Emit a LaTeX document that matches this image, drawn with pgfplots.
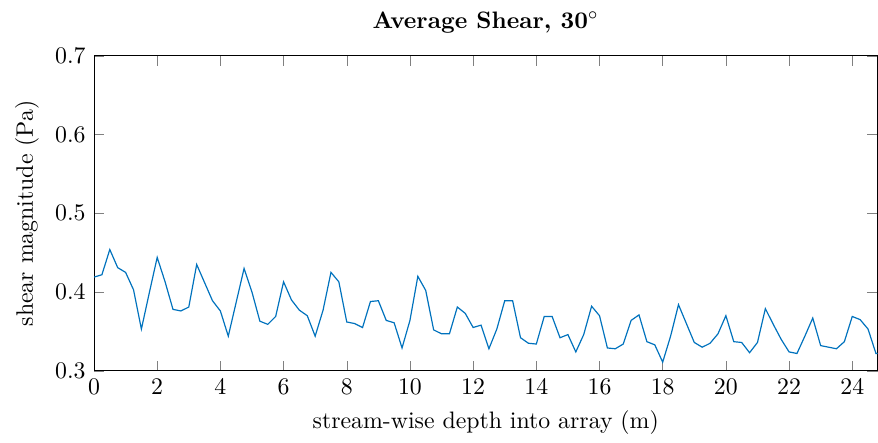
\documentclass[border=0pt]{standalone}
\usepackage{pgfplots}
\pgfplotsset{compat=1.18}
\definecolor{mblue}{rgb}{0,0.447,0.741}
\pgfplotstableread{
x y
0.00 0.419
0.25 0.422
0.50 0.454
0.75 0.431
1.00 0.425
1.25 0.403
1.50 0.353
1.75 0.399
2.00 0.444
2.25 0.413
2.50 0.378
2.75 0.376
3.00 0.381
3.25 0.435
3.50 0.412
3.75 0.389
4.00 0.376
4.25 0.344
4.50 0.387
4.75 0.430
5.00 0.400
5.25 0.363
5.50 0.359
5.75 0.369
6.00 0.413
6.25 0.390
6.50 0.377
6.75 0.370
7.00 0.344
7.25 0.377
7.50 0.425
7.75 0.413
8.00 0.362
8.25 0.360
8.50 0.355
8.75 0.388
9.00 0.389
9.25 0.364
9.50 0.361
9.75 0.329
10.00 0.364
10.25 0.420
10.50 0.402
10.75 0.352
11.00 0.347
11.25 0.347
11.50 0.381
11.75 0.373
12.00 0.355
12.25 0.358
12.50 0.328
12.75 0.353
13.00 0.389
13.25 0.389
13.50 0.342
13.75 0.335
14.00 0.334
14.25 0.369
14.50 0.369
14.75 0.342
15.00 0.346
15.25 0.324
15.50 0.346
15.75 0.382
16.00 0.370
16.25 0.329
16.50 0.328
16.75 0.334
17.00 0.364
17.25 0.371
17.50 0.337
17.75 0.333
18.00 0.311
18.25 0.344
18.50 0.384
18.75 0.360
19.00 0.336
19.25 0.330
19.50 0.335
19.75 0.347
20.00 0.370
20.25 0.337
20.50 0.336
20.75 0.323
21.00 0.336
21.25 0.379
21.50 0.359
21.75 0.340
22.00 0.324
22.25 0.322
22.50 0.344
22.75 0.367
23.00 0.332
23.25 0.330
23.50 0.328
23.75 0.337
24.00 0.369
24.25 0.365
24.50 0.353
24.75 0.322
25.00 0.322
}\datatable
\begin{document}
\begin{tikzpicture}
\begin{axis}[
  scale only axis,
  width=329.3pt, height=132.4pt,
  xmin=0, xmax=24.8,
  ymin=0.3, ymax=0.7,
  xtick={0,2,...,24},
  ytick={0.3,0.4,0.5,0.6,0.7},
  yticklabel style={/pgf/number format/fixed,/pgf/number format/precision=1,/pgf/number format/fixed zerofill},
  title={\textbf{Average Shear, 30$^\circ$}},
  xlabel={stream-wise depth into array (m)},
  ylabel={shear magnitude (Pa)},
  tick align=inside,
  clip=true,
]
\addplot[mblue, line width=0.5pt] table[x=x,y=y] {\datatable};
\end{axis}
\path ([xshift=-3pt,yshift=1.6pt]current bounding box.north west);
\end{tikzpicture}
\end{document}
